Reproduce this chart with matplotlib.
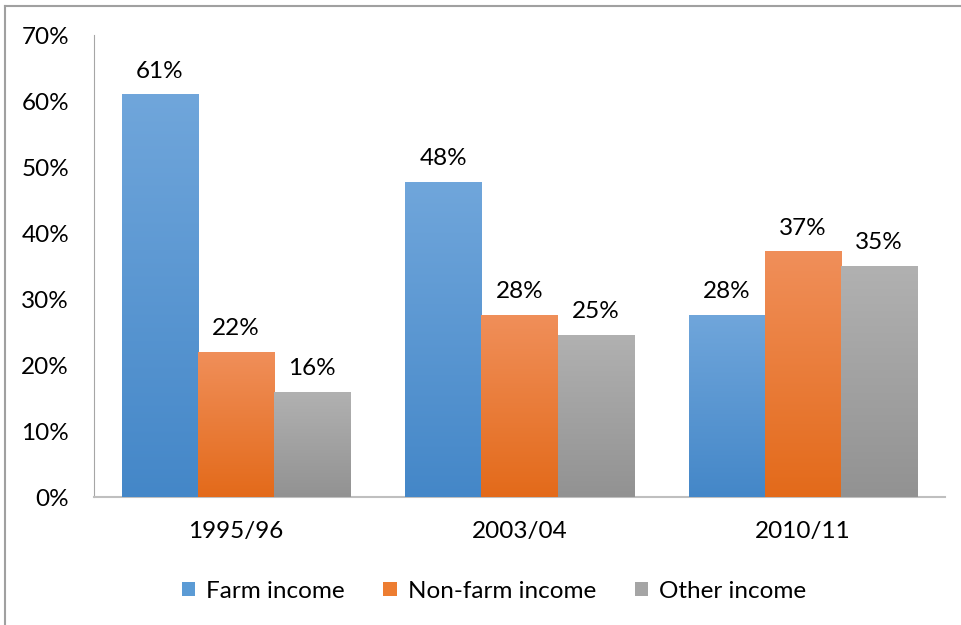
import matplotlib
matplotlib.use("Agg")
import matplotlib.pyplot as plt
import numpy as np
from matplotlib.colors import LinearSegmentedColormap
from matplotlib.patches import Rectangle
from matplotlib.lines import Line2D

categories = ["1995/96", "2003/04", "2010/11"]
series_names = ["Farm income", "Non-farm income", "Other income"]
farm = [61.0, 47.7, 27.6]
nonfarm = [22.0, 27.6, 37.2]
other = [15.9, 24.6, 35.0]
yticks = [0, 10, 20, 30, 40, 50, 60, 70]

top_colors = ["#70a6db", "#f08f5a", "#b1b1b1"]
bottom_colors = ["#4487c8", "#e36a1a", "#929292"]
mid_colors = ["#5b9bd5", "#ed7d31", "#a5a5a5"]

plt.rcParams['font.family'] = ['Lato', 'DejaVu Sans']
FS = 17.5

fig = plt.figure(figsize=(9.61, 6.25), dpi=100)
ax = fig.add_axes([94/961, 1-497/625, (945-94)/961, (497-35)/625])

x = np.arange(len(categories))
w = 0.268
data = [farm, nonfarm, other]
for i, vals in enumerate(data):
    offs = (i - 1) * w
    bars = ax.bar(x + offs, vals, width=w, color=mid_colors[i], label=series_names[i], zorder=2)
    cmap = LinearSegmentedColormap.from_list(f"g{i}", [bottom_colors[i], top_colors[i]])
    grad = np.linspace(0, 1, 256).reshape(-1, 1)
    for b, v in zip(bars, vals):
        x0 = b.get_x()
        im = ax.imshow(grad, cmap=cmap, origin="lower", aspect="auto",
                       extent=[x0, x0 + b.get_width(), 0, b.get_height()], zorder=3)
        im.set_clip_path(b)
        ax.text(b.get_x() + b.get_width()/2, v + 1.95, f"{v:.0f}%", ha="center", va="bottom",
                fontsize=FS, color="#000000", zorder=4)

ax.set_xlim(-0.5, 2.5)
ax.set_ylim(0, 70)
ax.set_yticks(yticks)
ax.set_yticklabels([f"{t}%" for t in yticks], fontsize=FS)
ax.set_xticks(x)
ax.set_xticklabels(categories, fontsize=FS)
ax.tick_params(axis="x", length=0, pad=17)
ax.tick_params(axis="y", length=0, pad=18)
for s in ["top", "right"]:
    ax.spines[s].set_visible(False)
ax.spines["left"].set_color("#a6a6a6")
ax.spines["bottom"].set_color("#bfbfbf")
ax.spines["bottom"].set_linewidth(1.5)

handles = [Rectangle((0, 0), 1, 1, facecolor=mid_colors[i]) for i in range(3)]
fig.legend(handles, series_names, loc="center", bbox_to_anchor=(494/961, 1-591/625),
           ncol=3, frameon=False, fontsize=FS, handlelength=0.55, handleheight=0.55,
           handletextpad=0.45, columnspacing=1.6)

fig.add_artist(Line2D([5/961, 5/961], [0, 1-6/625], transform=fig.transFigure,
                      color="#a0a0a0", linewidth=1.5))
fig.add_artist(Line2D([5/961, 1], [1-6/625, 1-6/625], transform=fig.transFigure,
                      color="#a0a0a0", linewidth=1.5))

fig.savefig("out.png", dpi=100)
